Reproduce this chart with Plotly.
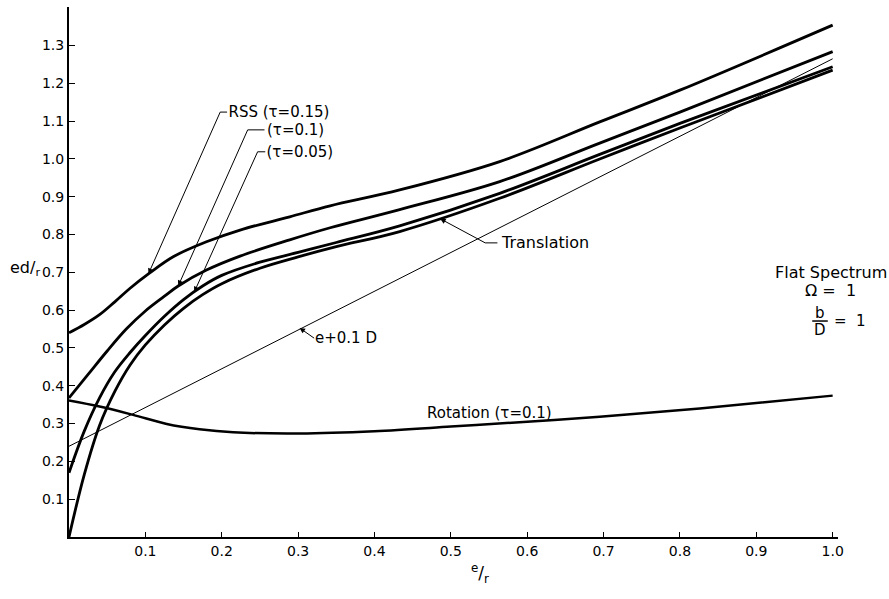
import plotly.graph_objects as go

# ---- data (x = e/r, y = e_d/r) ----
rss015_x = [0, 0.02, 0.04, 0.06, 0.08, 0.104, 0.137, 0.18, 0.224, 0.289, 0.342, 0.433, 0.564, 0.695, 0.8, 1.0]
rss015_y = [0.54, 0.562, 0.588, 0.622, 0.658, 0.696, 0.742, 0.781, 0.812, 0.847, 0.876, 0.918, 0.993, 1.098, 1.182, 1.354]

rss010_x = [0, 0.025, 0.05, 0.075, 0.1, 0.125, 0.143, 0.18, 0.224, 0.289, 0.342, 0.433, 0.564, 0.695, 0.8, 1.0]
rss010_y = [0.368, 0.43, 0.492, 0.55, 0.598, 0.637, 0.664, 0.706, 0.743, 0.786, 0.818, 0.866, 0.94, 1.042, 1.124, 1.284]

rss005_x = [0, 0.02, 0.04, 0.06, 0.08, 0.1, 0.125, 0.15, 0.175, 0.2, 0.25, 0.3, 0.35, 0.433, 0.564, 0.695, 0.8, 1.0]
rss005_y = [0.17, 0.28, 0.368, 0.437, 0.488, 0.533, 0.584, 0.628, 0.664, 0.692, 0.727, 0.753, 0.779, 0.823, 0.909, 1.012, 1.094, 1.244]

trans_x = [0, 0.02, 0.04, 0.06, 0.08, 0.1, 0.125, 0.15, 0.175, 0.2, 0.25, 0.3, 0.35, 0.433, 0.564, 0.695, 0.8, 1.0]
trans_y = [0, 0.165, 0.295, 0.385, 0.455, 0.508, 0.561, 0.605, 0.641, 0.67, 0.711, 0.741, 0.768, 0.808, 0.896, 1.0, 1.082, 1.235]

rot_x = [0, 0.04, 0.084, 0.128, 0.171, 0.215, 0.302, 0.4, 0.5, 0.6, 0.695, 0.826, 1.0]
rot_y = [0.361, 0.345, 0.323, 0.299, 0.285, 0.277, 0.274, 0.28, 0.292, 0.305, 0.318, 0.34, 0.374]

ref_x = [0, 1.0]
ref_y = [0.24, 1.265]

x_ticks = [0.1, 0.2, 0.3, 0.4, 0.5, 0.6, 0.7, 0.8, 0.9, 1.0]
x_tick_text = ["0.1", "0.2", "0.3", "0.4", "0.5", "0.6", "0.7", "0.8", "0.9", "1.0"]
y_ticks = [0.1, 0.2, 0.3, 0.4, 0.5, 0.6, 0.7, 0.8, 0.9, 1.0, 1.1, 1.2, 1.3]
y_tick_text = ["0.1", "0.2", "0.3", "0.4", "0.5", "0.6", "0.7", "0.8", "0.9", "1.0", "1.1", "1.2", "1.3"]

FONT = "DejaVu Sans"
INK = "black"
LABEL_SIZE = 15

fig = go.Figure()

def curve(x, y, width):
    fig.add_trace(go.Scatter(x=x, y=y, mode="lines",
                             line=dict(color=INK, width=width, shape="spline", smoothing=1.0),
                             hoverinfo="skip", showlegend=False))

curve(rss015_x, rss015_y, 2.8)
curve(rss010_x, rss010_y, 2.8)
curve(rss005_x, rss005_y, 2.8)
curve(trans_x, trans_y, 2.8)
curve(rot_x, rot_y, 2.5)
fig.add_trace(go.Scatter(x=ref_x, y=ref_y, mode="lines", line=dict(color=INK, width=1),
                         hoverinfo="skip", showlegend=False))

annotations = []
shapes = []

def leader(text, elbow_x, elbow_y, seg_len, tip_x, tip_y, size=LABEL_SIZE):
    # label whose left edge sits on the elbow; arrow runs from the elbow to the curve
    annotations.append(dict(x=tip_x, y=tip_y, xref="x", yref="y", ax=elbow_x, ay=elbow_y,
                            axref="x", ayref="y", text=text, showarrow=True,
                            xanchor="left", yanchor="middle", borderpad=0,
                            font=dict(family=FONT, size=size, color=INK),
                            arrowhead=2, arrowsize=1.1, arrowwidth=1, arrowcolor=INK, standoff=0))
    shapes.append(dict(type="line", xref="x", yref="y", x0=elbow_x, y0=elbow_y,
                       x1=elbow_x + seg_len, y1=elbow_y, line=dict(color=INK, width=1)))

EN = "\u2002"
EM = "\u2003"
leader(EN + "RSS (τ=0.15)", 0.198, 1.124, 0.009, 0.104, 0.696)
leader(EM + "\u2009(τ=0.1)", 0.234, 1.077, 0.022, 0.143, 0.664)
leader(EN + "(τ=0.05)", 0.247, 1.019, 0.010, 0.164, 0.648)
leader(EM + "Translation", 0.545, 0.778, 0.016, 0.486, 0.842, size=16)

# e+0.1D label with short arrow
annotations.append(dict(x=0.302, y=0.553, xref="x", yref="y", ax=0.321, ay=0.526, axref="x", ayref="y",
                        text="e+0.1 D", showarrow=True, xanchor="left", yanchor="middle", borderpad=0,
                        font=dict(family=FONT, size=LABEL_SIZE, color=INK),
                        arrowhead=2, arrowsize=1.1, arrowwidth=1, arrowcolor=INK, standoff=0))

annotations.append(dict(x=0.466, y=0.328, xref="x", yref="y", text="Rotation (τ=0.1)", showarrow=False,
                        xanchor="left", yanchor="middle", font=dict(family=FONT, size=LABEL_SIZE, color=INK)))

# right-side note
annotations.append(dict(x=0.991, y=0.5, xref="paper", yref="paper", text="Flat Spectrum",
                        showarrow=False, xanchor="center", yanchor="middle",
                        font=dict(family=FONT, size=16, color=INK)))
annotations.append(dict(x=0.99, y=0.466, xref="paper", yref="paper", text="Ω =  1",
                        showarrow=False, xanchor="center", yanchor="middle",
                        font=dict(family=FONT, size=16, color=INK)))
annotations.append(dict(x=0.9766, y=0.4235, xref="paper", yref="paper", text="b",
                        showarrow=False, xanchor="center", yanchor="middle",
                        font=dict(family=FONT, size=15, color=INK)))
annotations.append(dict(x=0.9766, y=0.3915, xref="paper", yref="paper", text="D",
                        showarrow=False, xanchor="center", yanchor="middle",
                        font=dict(family=FONT, size=15, color=INK)))
annotations.append(dict(x=0.992, y=0.4075, xref="paper", yref="paper", text="=  1",
                        showarrow=False, xanchor="left", yanchor="middle",
                        font=dict(family=FONT, size=15, color=INK)))
shapes.append(dict(type="line", xref="paper", yref="paper", x0=0.9665, x1=0.9867,
                   y0=0.4075, y1=0.4075, line=dict(color=INK, width=1.5)))

# axis titles
annotations.append(dict(x=0.5345, y=-0.068, xref="paper", yref="paper",
                        text="<sup>e</sup>/<sub>r</sub>", showarrow=False,
                        xanchor="center", yanchor="middle", font=dict(family=FONT, size=17, color=INK)))
annotations.append(dict(x=-0.057, y=0.5075, xref="paper", yref="paper",
                        text="ed/<sub>r</sub>", showarrow=False,
                        xanchor="center", yanchor="middle", font=dict(family=FONT, size=16, color=INK)))

fig.update_layout(
    width=889, height=599,
    margin=dict(l=69, r=51, t=7, b=62),
    paper_bgcolor="white", plot_bgcolor="white",
    showlegend=False,
    font=dict(family=FONT, color=INK),
    annotations=annotations, shapes=shapes,
    xaxis=dict(range=[0, 1.007], tickvals=x_ticks, ticktext=x_tick_text,
               showgrid=False, zeroline=False, showline=True, linecolor=INK, linewidth=2,
               ticks="inside", ticklen=5, tickwidth=1, tickcolor=INK,
               tickfont=dict(family=FONT, size=14, color=INK)),
    yaxis=dict(range=[0, 1.402], tickvals=y_ticks, ticktext=y_tick_text,
               showgrid=False, zeroline=False, showline=True, linecolor=INK, linewidth=2,
               ticks="inside", ticklen=6, tickwidth=1, tickcolor=INK,
               tickfont=dict(family=FONT, size=14, color=INK)),
)

fig.write_html("out.html", config={"displayModeBar": False},
               post_script="document.body.style.margin='0';")
